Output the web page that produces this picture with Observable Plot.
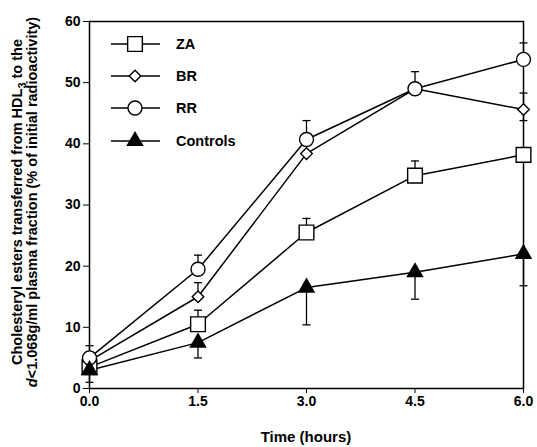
<!DOCTYPE html>
<html>
<head>
<meta charset="utf-8">
<script src="https://cdn.jsdelivr.net/npm/d3@7"></script>
<script src="https://cdn.jsdelivr.net/npm/@observablehq/plot@0.6"></script>
<style>
  html, body { margin: 0; padding: 0; background: #fff; }
  #chart { width: 537px; height: 447px; position: relative; }
  svg { font-family: "Liberation Sans", Arial, Helvetica, sans-serif; }
</style>
</head>
<body>
<div id="chart"></div>
<script>
// ---- data ----
const times = [0, 1.5, 3.0, 4.5, 6.0];
const seriesNames = ["ZA", "BR", "RR", "Controls"];
const za = [3.5, 10.5, 25.5, 34.8, 38.2];
const br = [4.5, 15.0, 38.4, 49.0, 45.6];
const rr = [5.0, 19.5, 40.7, 49.0, 53.8];
const controls = [3.0, 7.5, 16.5, 19.0, 22.0];
// error-bar ends (null = not visible)
const zaErrHi = [null, 12.8, 27.8, 37.2, null];
const brErrHi = [6.0, 17.3, null, null, 48.3];
const brErrLo = [null, null, null, null, 43.8];
const rrErrHi = [7.0, 21.8, 43.8, 51.8, 56.5];
const controlsErrLo = [1.0, 5.0, 10.4, 14.6, 16.8];
const xTicks = [0, 1.5, 3.0, 4.5, 6.0];
const yTicks = [0, 10, 20, 30, 40, 50, 60];

const values = {ZA: za, BR: br, RR: rr, Controls: controls};
const symbols = {ZA: "square", BR: "diamond2", RR: "circle", Controls: "triangle"};
const radii = {ZA: 8.3, BR: 5.2, RR: 7, Controls: 5.6};
const fills = {ZA: "white", BR: "white", RR: "white", Controls: "black"};

const points = seriesNames.flatMap(s => times.map((t, i) => ({series: s, t, v: values[s][i]})));
const errs = [];
function addErr(s, vals, ends) {
  ends.forEach((e, i) => { if (e != null) errs.push({series: s, t: times[i], v: vals[i], e}); });
}
addErr("ZA", za, zaErrHi);
addErr("BR", br, brErrHi);
addErr("BR", br, brErrLo);
addErr("RR", rr, rrErrHi);
addErr("Controls", controls, controlsErrLo);

const cap = {draw(ctx, size) { const w = 4; ctx.moveTo(-w, 0); ctx.lineTo(w, 0); }};

const marks = [
  Plot.frame({stroke: "black", strokeWidth: 1.5}),
  Plot.axisX({ticks: xTicks, tickFormat: d3.format(".1f"), tickSize: 5, tickPadding: 3, fontSize: 14, fontWeight: "bold", label: null}),
  Plot.axisY({ticks: yTicks, tickSize: 6, tickPadding: 3, fontSize: 14, fontWeight: "bold", label: null}),
  Plot.ruleX(errs, {x: "t", y1: "v", y2: "e", stroke: "black", strokeWidth: 1.3}),
  Plot.dot(errs, {x: "t", y: "e", symbol: cap, stroke: "black", strokeWidth: 1.3, r: 3})
];
for (const s of seriesNames) {
  const d = points.filter(p => p.series === s);
  marks.push(Plot.line(d, {x: "t", y: "v", stroke: "black", strokeWidth: 1.5}));
}
for (const s of seriesNames) {
  const d = points.filter(p => p.series === s);
  marks.push(Plot.dot(d, {x: "t", y: "v", symbol: symbols[s], r: radii[s], fill: fills[s], stroke: "black", strokeWidth: 1.4}));
}

const plot = Plot.plot({
  width: 537,
  height: 447,
  marginLeft: 89,
  marginRight: 14,
  marginTop: 21,
  marginBottom: 59,
  x: {domain: [0, 6]},
  y: {domain: [0, 60]},
  style: {fontFamily: "'Liberation Sans', Arial, Helvetica, sans-serif", color: "black", background: "white"},
  marks
});
document.getElementById("chart").appendChild(plot);

const svg = d3.select(plot);
// x-axis title
svg.append("text")
  .attr("x", 306).attr("y", 442)
  .attr("text-anchor", "middle")
  .attr("font-size", 15).attr("font-weight", "bold")
  .text("Time (hours)");

// y-axis title (two lines)
const yl = svg.append("g").attr("transform", "translate(0,202) rotate(-90)")
  .attr("font-size", 14.5).attr("font-weight", "bold").attr("text-anchor", "middle");
const l1 = yl.append("text").attr("x", 0).attr("y", 17).attr("dy", "0.35em");
l1.append("tspan").text("Cholesteryl esters transferred from HDL");
l1.append("tspan").attr("font-size", 11).attr("dy", 4).text("3");
l1.append("tspan").attr("dy", -4).text(" to the");
const l2 = yl.append("text").attr("x", 0).attr("y", 32).attr("dy", "0.35em");
l2.append("tspan").attr("font-style", "italic").text("d");
l2.append("tspan").text("<1.068g/ml plasma fraction (% of initial radioactivity)");

// legend
const legendRows = [44, 76, 108, 141];
const lg = svg.append("g");
seriesNames.forEach((s, i) => {
  const y = legendRows[i];
  lg.append("line").attr("x1", 111).attr("x2", 160).attr("y1", y).attr("y2", y)
    .attr("stroke", "black").attr("stroke-width", 1.5);
  const symType = {square: d3.symbolSquare, diamond2: d3.symbolDiamond2, circle: d3.symbolCircle, triangle: d3.symbolTriangle}[symbols[s]];
  lg.append("path").attr("transform", `translate(135,${y})`)
    .attr("d", d3.symbol(symType, Math.PI * radii[s] * radii[s])())
    .attr("fill", fills[s]).attr("stroke", "black").attr("stroke-width", 1.4);
  lg.append("text").attr("x", 176).attr("y", y).attr("dy", "0.35em")
    .attr("text-anchor", "start")
    .attr("font-size", 14.5).attr("font-weight", "bold").text(s);
});
</script>
</body>
</html>
